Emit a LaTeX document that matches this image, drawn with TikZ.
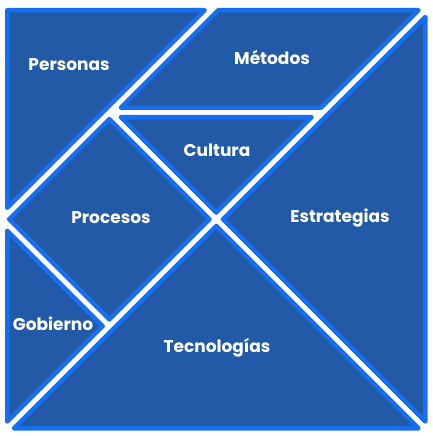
\documentclass[tikz,border=0pt]{standalone}
\usepackage{fontspec}
\newfontfamily\labfont{Poppins}
\definecolor{piecefill}{RGB}{35,90,168}
\definecolor{pieceedge}{RGB}{22,110,240}
\begin{document}
\begin{tikzpicture}[x=1pt,y=-1pt,
  piece/.style={fill=piecefill,draw=pieceedge,line width=4.5pt,line join=round},
  lab/.style={text=white,font=\labfont\bfseries\fontsize{17}{19}\selectfont,inner sep=0pt}]
\useasboundingbox[fill=white] (0,0) rectangle (433,436);
% Personas
\draw[piece] (7.25,10.25) -- (204.78,10.25) -- (7.25,207.78) -- cycle;
% Metodos
\draw[piece] (218.22,10.25) -- (418.53,10.25) -- (321.16,107.63) -- (120.84,107.63) -- cycle;
% Cultura
\draw[piece] (120.84,117.13) -- (311.66,117.13) -- (216.25,212.53) -- cycle;
% Estrategias
\draw[piece] (425.25,16.97) -- (425.25,421.53) -- (222.97,219.25) -- cycle;
% Tecnologias
\draw[piece] (13.97,428.25) -- (418.53,428.25) -- (216.25,225.97) -- cycle;
% Procesos
\draw[piece] (109.38,119.09) -- (209.53,219.25) -- (109.38,319.41) -- (9.22,219.25) -- cycle;
% Gobierno
\draw[piece] (7.25,230.72) -- (102.66,326.13) -- (7.25,421.53) -- cycle;
\node[lab] (personas) at (69,65) {Personas};
\node[lab] (metodos) at (272,57) {Métodos};
\node[lab] (cultura) at (217,150) {Cultura};
\node[lab] (procesos) at (111,218) {Procesos};
\node[lab] (estrategias) at (340,218) {Estrategias};
\node[lab] (gobierno) at (53,324) {Gobierno};
\node[lab] (tecnologias) at (217,348) {Tecnologías};
\end{tikzpicture}
\end{document}
